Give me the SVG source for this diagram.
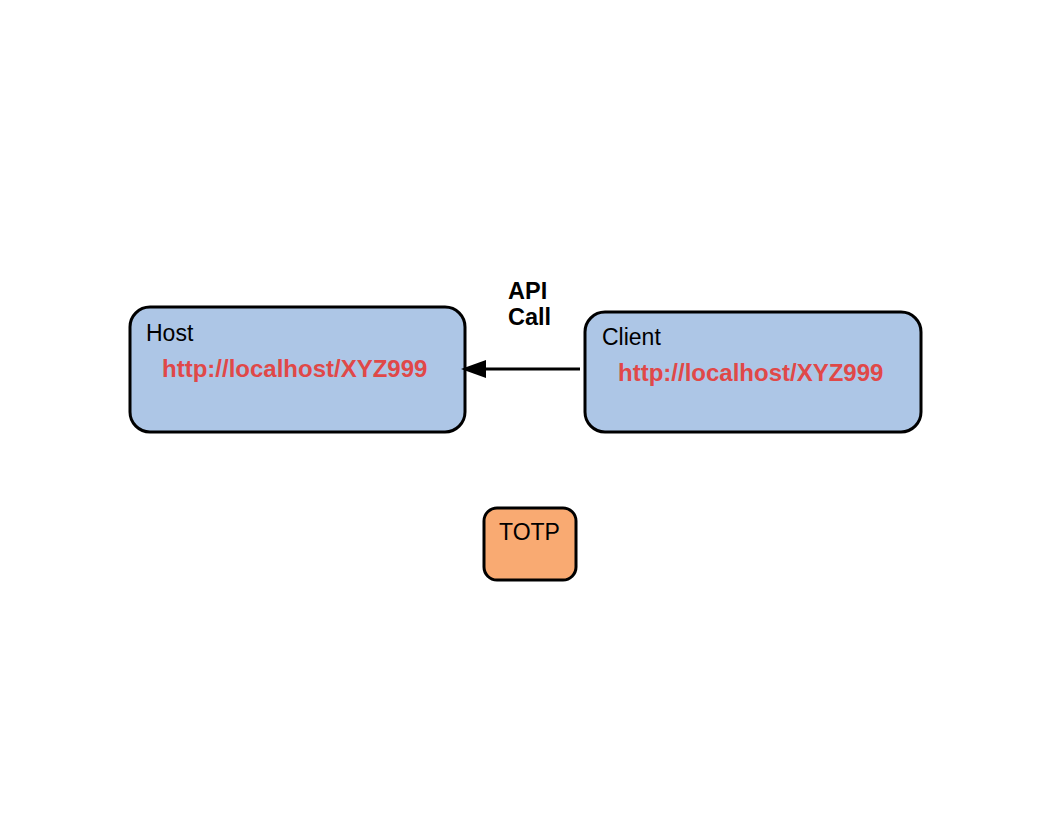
<svg xmlns="http://www.w3.org/2000/svg" width="1056" height="816" viewBox="0 0 1056 816">
<style>
.box{fill:#adc6e6;stroke:#000;stroke-width:3}
.t{font-family:"Liberation Sans",Arial,sans-serif;font-size:23px;fill:#000}
.u{font-family:"Liberation Sans",Arial,sans-serif;font-size:24px;font-weight:bold;fill:#e04848}
.b{font-family:"Liberation Sans",Arial,sans-serif;font-size:23.5px;font-weight:bold;fill:#000}
</style>
<rect width="1056" height="816" fill="#fff"/>
<g id="host">
<rect class="box" x="130" y="307" width="335" height="125" rx="20"/>
<text class="t" x="146" y="341">Host</text>
<text class="u" x="162" y="377">http://localhost/XYZ999</text>
</g>
<g id="client">
<rect class="box" x="585" y="312" width="336" height="120" rx="20"/>
<text class="t" x="602" y="345">Client</text>
<text class="u" x="618" y="381">http://localhost/XYZ999</text>
</g>
<g id="totp">
<rect x="484" y="508" width="92" height="72" rx="13" fill="#f9aa72" stroke="#000" stroke-width="3"/>
<text class="t" x="499" y="540">TOTP</text>
</g>
<g id="connectors">
<line x1="580" y1="369" x2="486" y2="369" stroke="#000" stroke-width="3"/>
<path d="M461,369 L486,360 L486,378 z" fill="#000"/>
<text class="b" x="508" y="299">API</text>
<text class="b" x="508" y="325">Call</text>
</g>
</svg>
